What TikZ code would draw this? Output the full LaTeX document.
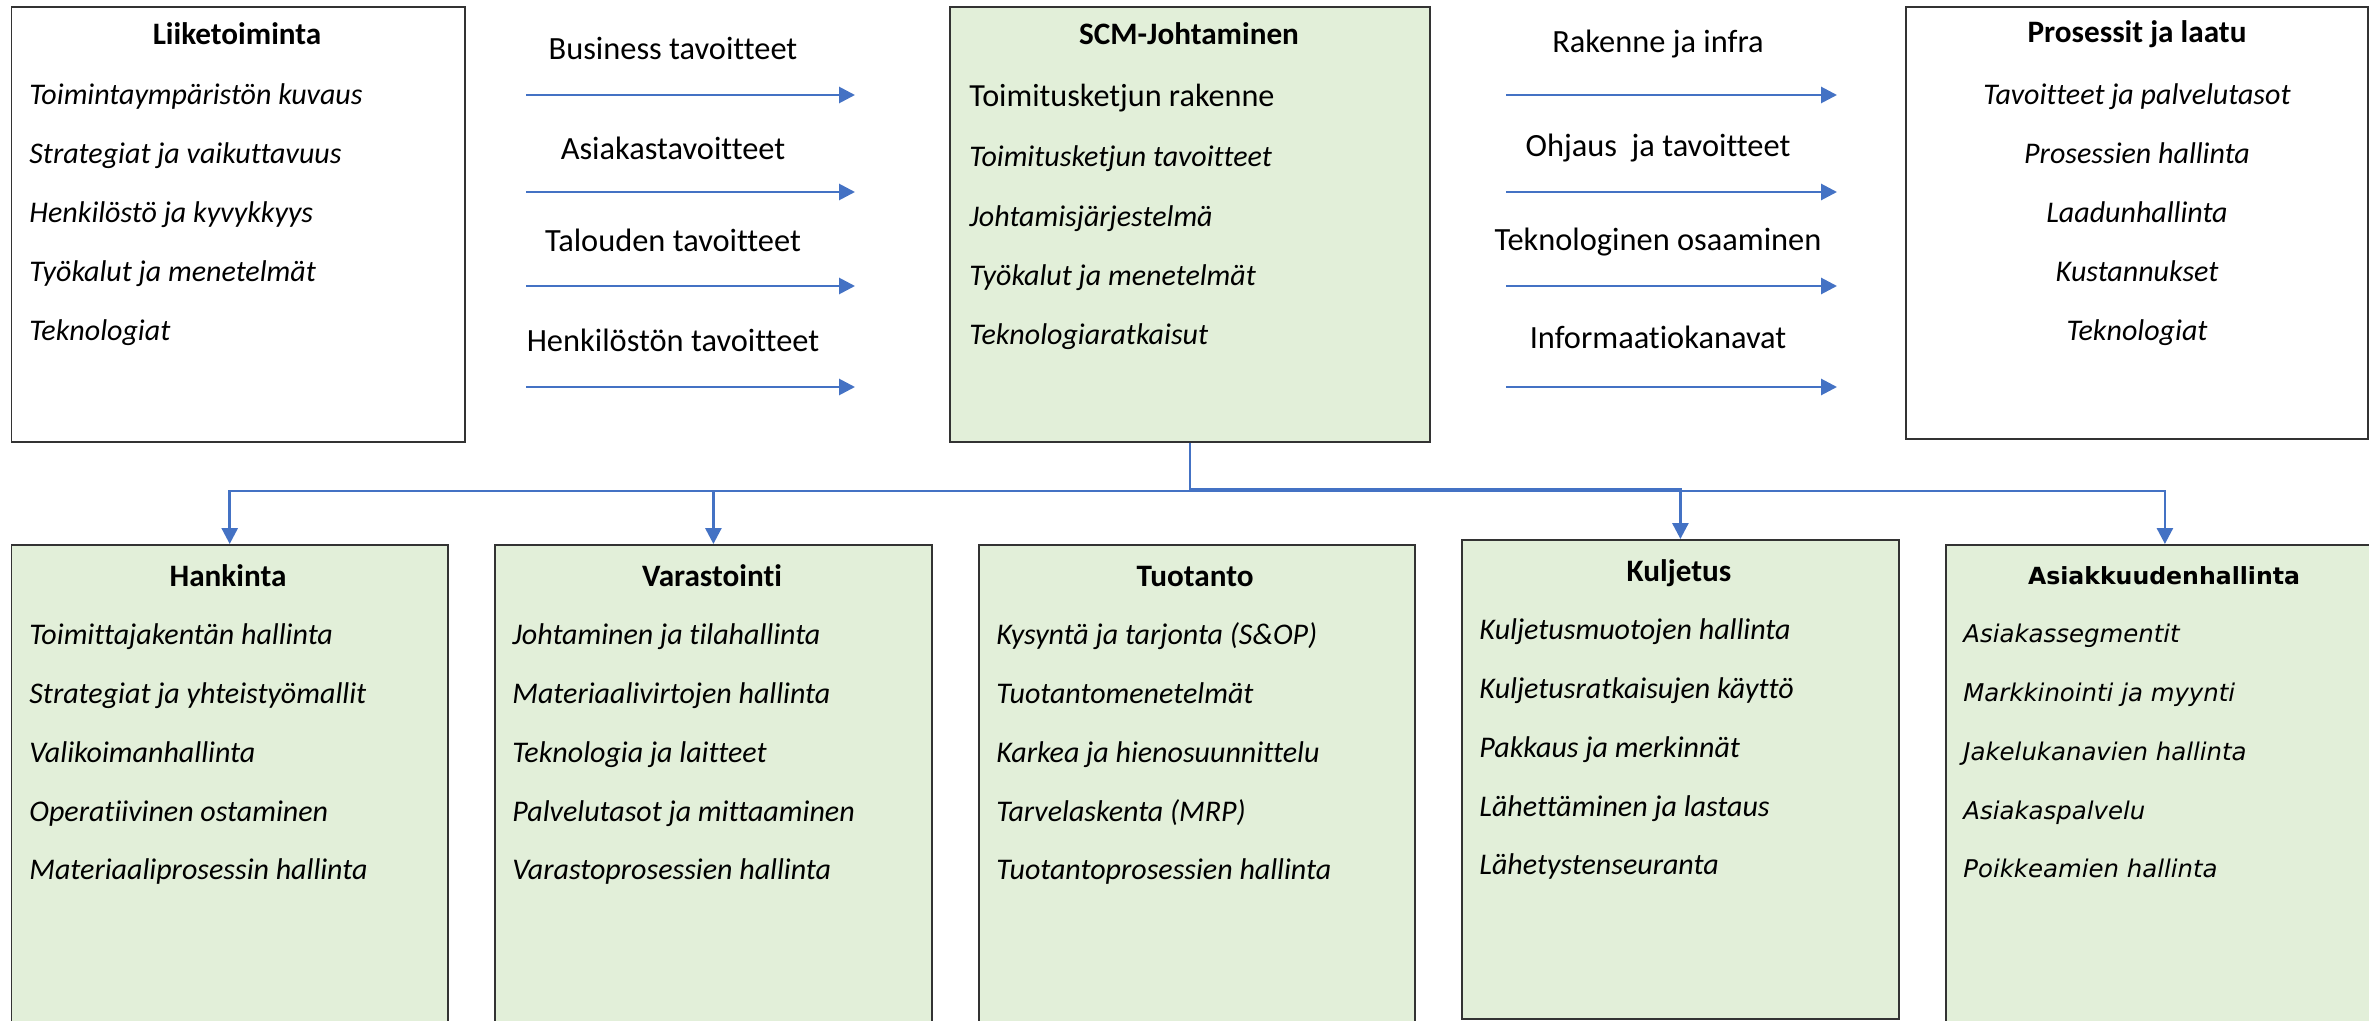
\documentclass[tikz,border=0pt]{standalone}
\usepackage{fontspec}
\setmainfont{Carlito}[Ligatures=NoCommon]
\newfontfamily\widefont{DejaVu Sans}
\usetikzlibrary{arrows.meta}
\definecolor{boxgreen}{HTML}{E2EFD9}
\definecolor{linkblue}{HTML}{4472C4}
\definecolor{frame}{HTML}{333333}
\begin{document}
\begin{tikzpicture}[x=0.5pt,y=-0.5pt,
  panel/.style={draw=frame, line width=0.9pt, anchor=north west, inner sep=0pt},
  greenpanel/.style={panel, fill=boxgreen},
  head/.style={font=\fontsize{15.6}{18}\selectfont\bfseries, inner sep=0pt},
  item/.style={font=\fontsize{15}{18}\selectfont\itshape, anchor=mid west, inner sep=0pt},
  citem/.style={item, anchor=mid},
  whead/.style={font=\widefont\fontsize{11.8}{14}\selectfont\bfseries, inner sep=0pt},
  witem/.style={item, font=\widefont\fontsize{12.2}{14}\selectfont\itshape},
  flowlabel/.style={font=\fontsize{16.2}{19}\selectfont, inner sep=0pt},
  flow/.style={draw=linkblue, line width=1.4pt, -{Triangle[length=8pt,width=8pt]}},
]
\useasboundingbox (0,0) rectangle (2369,1021);

% ---- top row panels
\node[panel, minimum width=226.7pt, minimum height=217.5pt] (liike) at (10.6,6) {};
\node[greenpanel, minimum width=240pt, minimum height=217.5pt] (scm) at (949,6) {};
\node[panel, minimum width=231pt, minimum height=216pt] (pros) at (1905,6) {};

% ---- bottom row panels
\node[greenpanel, minimum width=218.2pt, minimum height=248pt] (hank) at (10.6,544) {};
\node[greenpanel, minimum width=218.5pt, minimum height=248pt] (vara) at (494,544) {};
\node[greenpanel, minimum width=218pt, minimum height=248pt] (tuot) at (978,544) {};
\node[greenpanel, minimum width=218.5pt, minimum height=239.5pt] (kulj) at (1461,539) {};
\node[greenpanel, minimum width=219pt, minimum height=248pt] (asia) at (1945,544) {};

% ---- Liiketoiminta
\node[head] (liike-t) at (237,34) {Liiketoiminta};
\foreach \t [count=\i] in {Toimintaympäristön kuvaus, Strategiat ja vaikuttavuus,
  Henkilöstö ja kyvykkyys, Työkalut ja menetelmät, Teknologiat}
  \node[item] (liike-\i) at (29,{100+59*(\i-1)}) {\t};

% ---- SCM-Johtaminen
\node[head] (scm-t) at (1189,34) {SCM-Johtaminen};
\node[item, font=\fontsize{16.1}{19}\selectfont] (scm-1) at (969,102) {Toimitusketjun rakenne};
\foreach \t [count=\i from 2] in {Toimitusketjun tavoitteet, Johtamisjärjestelmä,
  Työkalut ja menetelmät, Teknologiaratkaisut}
  \node[item] (scm-\i) at (969,{162+59.3*(\i-2)}) {\t};

% ---- Prosessit ja laatu
\node[head] (pros-t) at (2137,34) {Prosessit ja laatu};
\foreach \t [count=\i] in {Tavoitteet ja palvelutasot, Prosessien hallinta,
  Laadunhallinta, Kustannukset, Teknologiat}
  \node[citem] (pros-\i) at (2137,{100+59*(\i-1)}) {\t};

% ---- Hankinta
\node[head] (hank-t) at (228,576) {Hankinta};
\foreach \t [count=\i] in {Toimittajakentän hallinta, Strategiat ja yhteistyömallit,
  Valikoimanhallinta, Operatiivinen ostaminen, Materiaaliprosessin hallinta}
  \node[item] (hank-\i) at (29,{640+58.8*(\i-1)}) {\t};

% ---- Varastointi
\node[head] (vara-t) at (712,576) {Varastointi};
\foreach \t [count=\i] in {Johtaminen ja tilahallinta, Materiaalivirtojen hallinta,
  Teknologia ja laitteet, Palvelutasot ja mittaaminen, Varastoprosessien hallinta}
  \node[item] (vara-\i) at (512,{640+58.8*(\i-1)}) {\t};

% ---- Tuotanto
\node[head] (tuot-t) at (1195,576) {Tuotanto};
\foreach \t [count=\i] in {Kysyntä ja tarjonta (S\&OP), Tuotantomenetelmät,
  Karkea ja hienosuunnittelu, Tarvelaskenta (MRP), Tuotantoprosessien hallinta}
  \node[item] (tuot-\i) at (996,{640+58.8*(\i-1)}) {\t};

% ---- Kuljetus
\node[head] (kulj-t) at (1679,573) {Kuljetus};
\foreach \t [count=\i] in {Kuljetusmuotojen hallinta, Kuljetusratkaisujen käyttö,
  Pakkaus ja merkinnät, Lähettäminen ja lastaus, Lähetystenseuranta}
  \node[item] (kulj-\i) at (1479,{635+58.8*(\i-1)}) {\t};

% ---- Asiakkuudenhallinta
\node[whead] (asia-t) at (2164,576) {Asiakkuudenhallinta};
\foreach \t [count=\i] in {Asiakassegmentit, Markkinointi ja myynti,
  Jakelukanavien hallinta, Asiakaspalvelu, Poikkeamien hallinta}
  \node[witem] (asia-\i) at (1963,{638+58.8*(\i-1)}) {\t};

% ---- flows from Liiketoiminta to SCM
\foreach \t/\y/\ly [count=\i] in {Business tavoitteet/95/48, Asiakastavoitteet/192/148,
  Talouden tavoitteet/286/240, Henkilöstön tavoitteet/387/340}{
  \node[flowlabel] (inlab-\i) at (673,\ly) {\t};
  \coordinate (in-a\i) at (526,\y);
  \coordinate (in-b\i) at (855,\y);
  \draw[flow] (in-a\i) -- (in-b\i);
}

% ---- flows from SCM to Prosessit
\foreach \t/\y/\ly [count=\i] in {Rakenne ja infra/95/44, Ohjaus \ ja tavoitteet/192/148,
  Teknologinen osaaminen/286/242, Informaatiokanavat/387/337}{
  \node[flowlabel] (outlab-\i) at (1658,\ly) {\t};
  \coordinate (out-a\i) at (1506,\y);
  \coordinate (out-b\i) at (1837,\y);
  \draw[flow] (out-a\i) -- (out-b\i);
}

% ---- distribution from SCM to the functional areas
\coordinate (bus) at (1189,491);
\coordinate (bus2) at (1189,489);
\draw[flow] (scm.south) -- (scm.south |- bus) -| (hank.north);
\draw[flow] (scm.south) -- (scm.south |- bus) -| (vara.north);
\draw[flow] (scm.south) -- (scm.south |- bus2) -| (kulj.north);
\draw[flow] (scm.south) -- (scm.south |- bus) -| (asia.north);
\end{tikzpicture}
\end{document}
